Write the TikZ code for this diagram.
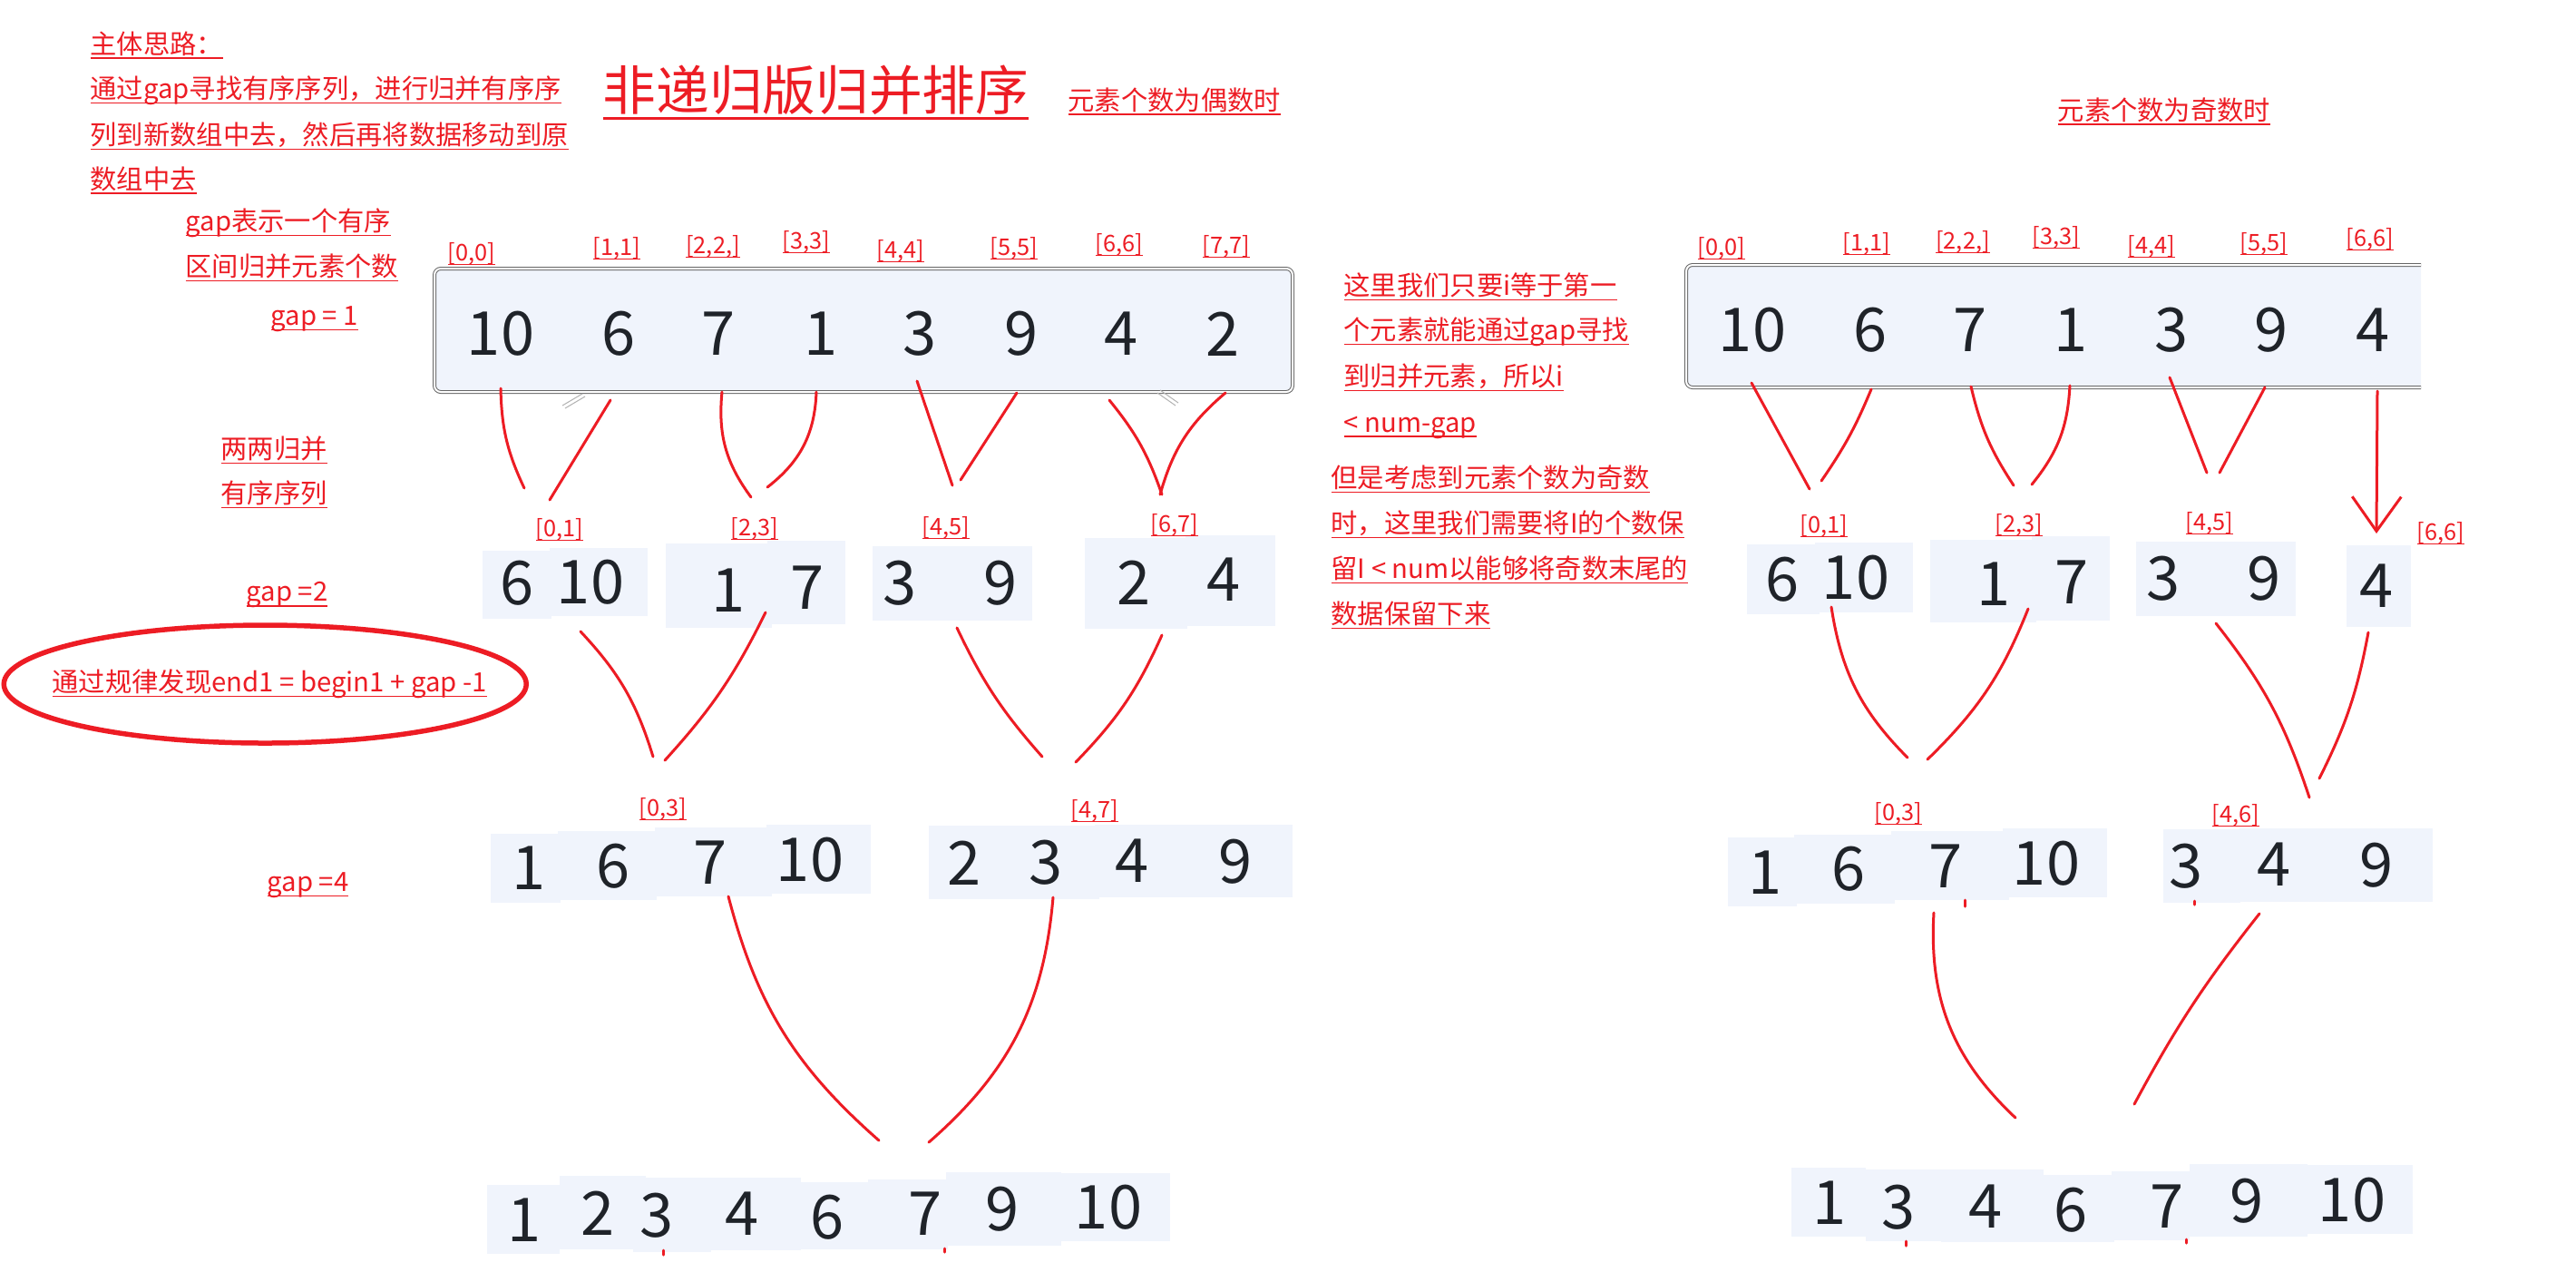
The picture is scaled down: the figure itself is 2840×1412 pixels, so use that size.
\documentclass[tikz,border=0pt]{standalone}
\usepackage{fontspec}
\setmainfont{Noto Sans CJK SC}
\usetikzlibrary{arrows.meta}
\definecolor{mred}{RGB}{237,28,36}
\definecolor{ink}{RGB}{31,35,41}
\definecolor{cellblue}{RGB}{240,244,252}
\newsavebox\ulxbox
\newcommand\ulx[1]{\sbox\ulxbox{#1}\rlap{\rule[-0.19em]{\wd\ulxbox}{0.055em}}\usebox\ulxbox}

\begin{document}
\begin{tikzpicture}[x=0.1mm,y=0.1mm,
  note/.style={text=mred,font=\fontsize{8.33}{10}\selectfont,inner sep=0,anchor=west},
  lab/.style={text=mred,font=\fontsize{7.2}{9}\selectfont,inner sep=0},
  num/.style={text=ink,font=\fontsize{19}{22}\selectfont,inner sep=0},
  cell/.style={fill=cellblue},
  arrbox/.style={fill=cellblue,draw=black!60,double=white,double distance=0.2mm,line width=0.1mm,rounded corners=0.7mm,inner sep=0},
  stroke/.style={draw=mred,line width=0.3mm,line cap=round},
  ring/.style={draw=mred,line width=0.55mm}]
\useasboundingbox (0,0) rectangle (2840,-1412);
\fill[white] (0,0) rectangle (2840,-1412);

% Input arrays
\node[arrbox,minimum width=94.6mm,minimum height=13.6mm] (rowL) at (952,-364) {};
\begin{scope}
  \clip (1840,-270) rectangle (2669,-450);
  \node[arrbox,minimum width=90mm,minimum height=13.5mm] (rowR) at (2309,-359.5) {};
\end{scope}
\draw[gray!60,line width=0.1mm] (642,-434) -- (620,-447) (645,-437) -- (623,-450);
\draw[gray!60,line width=0.1mm] (1276,-433) -- (1296,-447) (1279,-430) -- (1299,-444);

% Merged cells
\foreach \a/\b/\c/\d in {532/607/608/682, 606/604/714/679, 734/599/851/692, 846/596/932/688,
    962/602/1138/684, 1196/593/1309/693, 1307/590/1406/690,
    541/919/618/995, 615/916/724/992, 722/912/851/988, 845/909/960/985, 1024/910/1212/991, 1207/909/1425/989,
    537/1306/617/1382, 617/1296/712/1377, 698/1298/784/1380, 768/1298/883/1378, 882/1303/962/1377,
    957/1300/1045/1377, 1043/1292/1170/1373, 1170/1293/1290/1368,
    1926/600/2006/677, 2001/598/2109/675, 2128/595/2245/686, 2240/591/2326/684, 2355/597/2531/679, 2587/601/2658/691,
    1905/923/1981/999, 1978/920/2089/996, 2085/916/2215/992, 2208/913/2323/989, 2385/914/2470/995, 2469/913/2682/994,
    1975/1287/2057/1363, 2057/1289/2140/1368, 2140/1289/2253/1369, 2253/1295/2331/1369,
    2328/1291/2414/1367, 2414/1283/2544/1363, 2544/1284/2660/1360}
  \fill[cell] (\a,-\b) rectangle (\c,-\d);

% Merge strokes
\foreach \i/\xa/\ya/\xb/\yb/\b in {1/552/428/578/538/-12, 2/673/441/606/551/0, 3/796/432/828/548/-21,
    4/900/432/846/537/25, 5/1011/420/1050/535/0, 6/1121/433/1059/529/0, 7/1223/441/1281/545/10,
    8/1351/433/1279/545/-17, 9/640/696/720/834/13, 10/844/675/733/838/8, 11/1055/692/1149/834/-8,
    12/1281/700/1186/840/10, 13/803/988/969/1257/-17, 14/1161/989/1024/1259/22,
    15/1931/422/1995/539/0, 16/2063/429/2008/530/6, 17/2173/426/2220/535/-10, 18/2282/425/2240/534/18,
    19/2392/416/2433/521/0, 20/2497/427/2447/521/0, 21/2019/669/2103/835/-18, 22/2236/671/2125/837/12,
    23/2443/687/2546/879/10, 24/2611/697/2557/858/8, 25/2132/1006/2222/1232/-25, 26/2491/1007/2353/1217/-5,
    27/731/1378/731/1383/0, 28/1041/1376/1041/1380/0, 29/2166/992/2166/999/0,
    30/2419/993/2419/997/0, 31/2101/1368/2101/1373/0, 32/2410/1366/2410/1370/0}{
  \coordinate (s\i) at (\xa,-\ya);
  \coordinate (e\i) at (\xb,-\yb);
  \draw[stroke] (s\i) to[bend left=\b] (e\i);
}
\coordinate (down) at (2621,-431);
\coordinate (tip) at (2620,-588);
\draw[stroke,-{Straight Barb[length=3.8mm,width=5.4mm]}] (down) -- (tip);

% Numbers
\foreach \v/\x [count=\i] in {10/552,6/682,7/792,1/905,3/1014,9/1126,4/1236,2/1348}
  \node[num] (lt\i) at (\x,-368) {\v};
\foreach \v/\x [count=\i] in {10/1932,6/2062,7/2172,1/2283,3/2394,9/2504,4/2616}
  \node[num] (rt\i) at (\x,-364) {\v};
\foreach \v/\x/\y [count=\i] in {6/570/643,10/651/642,1/803/651,7/890/648,3/992/643,9/1103/643,2/1250/642,4/1349/639}
  \node[num] (lp\i) at (\x,-\y) {\v};
\foreach \v/\x/\y [count=\i] in {6/1965/639,10/2046/637,1/2198/644,7/2284/642,3/2385/638,9/2496/638,4/2620/646}
  \node[num] (rp\i) at (\x,-\y) {\v};
\foreach \v/\x/\y [count=\i] in {1/583/957,6/676/955,7/783/951,10/893/948,2/1063/951,3/1153/951,4/1248/949,9/1362/950}
  \node[num] (lq\i) at (\x,-\y) {\v};
\foreach \v/\x/\y [count=\i] in {1/1946/962,6/2038/958,7/2145/955,10/2256/952,3/2410/955,4/2507/953,9/2620/954}
  \node[num] (rq\i) at (\x,-\y) {\v};
\foreach \v/\x/\y [count=\i] in {1/578/1345,2/659/1337,3/724/1340,4/818/1338,6/912/1342,7/1020/1338,9/1105/1333,10/1222/1331}
  \node[num] (lr\i) at (\x,-\y) {\v};
\foreach \v/\x/\y [count=\i] in {1/2017/1326,3/2093/1331,4/2189/1330,6/2283/1334,7/2389/1330,9/2477/1324,10/2593/1323}
  \node[num] (rr\i) at (\x,-\y) {\v};

% Ranges
\foreach \t/\x/\y [count=\i] in {{[0,0]}/520/280, {[1,1]}/680/274, {[2,2,]}/786/272, {[3,3]}/889/267,
    {[4,4]}/993/277, {[5,5]}/1118/274, {[6,6]}/1234/270, {[7,7]}/1352/272,
    {[0,1]}/617/584, {[2,3]}/832/583, {[4,5]}/1043/582, {[6,7]}/1295/579,
    {[0,3]}/731/892, {[4,7]}/1207/894,
    {[0,0]}/1898/274, {[1,1]}/2058/269, {[2,2,]}/2164/267, {[3,3]}/2267/262,
    {[4,4]}/2372/272, {[5,5]}/2496/269, {[6,6]}/2613/264,
    {[0,1]}/2011/580, {[2,3]}/2226/579, {[4,5]}/2436/577, {[6,6]}/2691/588,
    {[0,3]}/2093/897, {[4,6]}/2465/899}
  \node[lab] (rg\i) at (\x,-\y) {\ulx{\t}};

% Notes
\foreach \t/\y [count=\i] in {主体思路：/50, 通过gap寻找有序序列，进行归并有序序/100,
    列到新数组中去，然后再将数据移动到原/150, 数组中去/199}
  \node[note] (idea\i) at (99,-\y) {\ulx{\t}};
\node[note,font=\fontsize{16.7}{20}\selectfont] (title) at (664,-102) {\ulx{非递归版归并排序}};
\node[note] (even) at (1177,-112) {\ulx{元素个数为偶数时}};
\node[note] (odd) at (2268,-123) {\ulx{元素个数为奇数时}};
\node[note] (gapA) at (204,-246) {\ulx{gap表示一个有序}};
\node[note] (gapB) at (204,-295) {\ulx{区间归并元素个数}};
\node[note] (gap1) at (298,-352) {\ulx{gap = 1}};
\node[note] (pairA) at (243,-496) {\ulx{两两归并}};
\node[note] (pairB) at (243,-545) {\ulx{有序序列}};
\node[note] (gap2) at (271,-656) {\ulx{gap =2}};
\node[note] (gap4) at (294,-976) {\ulx{gap =4}};
\node[note] (ends) at (57,-754) {\ulx{通过规律发现end1 = begin1 + gap -1}};
\draw[ring] ([xshift=-0.5mm]ends.center) ellipse [x radius=28.8mm,y radius=6.5mm];
\foreach \t/\x/\y [count=\i] in {这里我们只要i等于第一/1481/316, 个元素就能通过gap寻找/1481/366,
    到归并元素，所以i/1481/416, < num-gap/1481/471, 但是考虑到元素个数为奇数/1467/528,
    时，这里我们需要将I的个数保/1467/578, 留I < num以能够将奇数末尾的/1467/628, 数据保留下来/1467/678}
  \node[note] (why\i) at (\x,-\y) {\ulx{\t}};
\end{tikzpicture}
\end{document}
